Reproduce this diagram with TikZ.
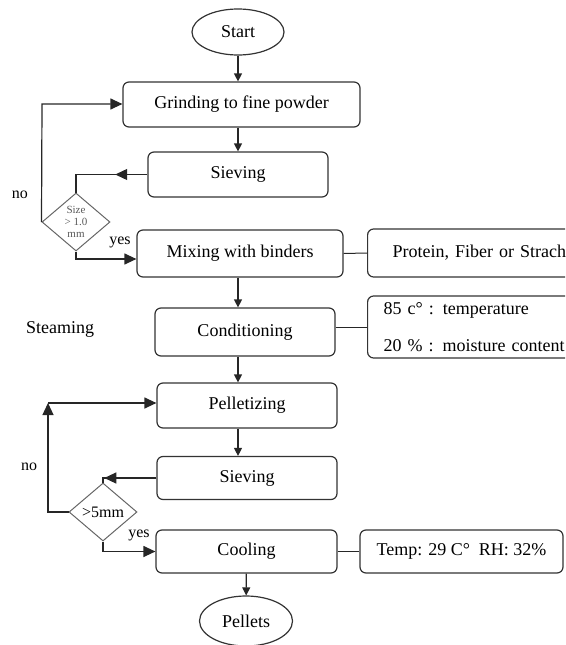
\documentclass[tikz,border=0pt]{standalone}
\usepackage{fontspec}
\setmainfont{Liberation Serif}
\usetikzlibrary{shapes.geometric,arrows.meta,decorations.markings}

\begin{document}
\begin{tikzpicture}
		[x=1pt,y=-1pt,
		line width=1.2pt,
		font=\fontsize{18}{20}\selectfont,
		process/.style={
			rectangle,
			rounded corners=6pt,
			draw=black!80,
			inner sep=0pt
		},
		terminal/.style={ellipse,draw=black!80,minimum width=92pt,minimum height=46pt,inner sep=0pt},
		decision/.style={diamond,draw=black!60,line width=1pt,inner sep=0pt,minimum width=68pt,minimum height=58pt},
		note/.style={rectangle,rounded corners=6pt,draw=black!80,align=left,anchor=west,inner sep=0pt},
		link/.style={draw=black!85,line width=1pt},
		flow/.style={draw=black!85,-{Triangle[length=12pt,width=11pt]}},
		vflow/.style={draw=black!85,-{Triangle[length=8pt,width=8pt]}},
		midflow/.style={draw=black!85,postaction={decorate},
			decoration={markings,mark=at position #1 with {\arrow{Triangle[length=12pt,width=11pt]}}}},
		tag/.style={font=\fontsize{16}{18}\selectfont}]
		\useasboundingbox (0,0) rectangle (565,645);
		\clip (0,0) rectangle (565,645);
		\node[terminal] (start) at (238,32) {Start};
		\node[process,minimum width=237pt,minimum height=45pt] (grind) at (241.5,104.5) {Grinding to fine powder};
		\node[process,minimum width=180pt,minimum height=45pt] (sieve1) at (238,174.5) {Sieving};
		\node[decision,text=black!65,font=\fontsize{11}{12}\selectfont,align=center] (d1) at (76,222) {Size\\> 1.0\\mm};
		\node[process,minimum width=206pt,minimum height=47pt] (mix) at (240,253.5) {Mixing with binders};
		\node[note,minimum height=48pt,text width=230pt,inner xsep=25pt] (binder) at (367,253) {Protein, Fiber or Strach};
		\node (steam) at (60,329) {Steaming};
		\node[process,minimum width=180pt,minimum height=48pt] (cond) at (245,332) {Conditioning};
		\node[note,minimum height=62pt,text width=200pt,inner xsep=16pt] (condnote) at (367,327)
			{85 c° : temperature\\[17pt]20 \% : moisture content};
		\node[process,minimum width=180pt,minimum height=45pt] (pellet) at (247,405.5) {Pelletizing};
		\node[process,minimum width=180pt,minimum height=43pt] (sieve2) at (247,478) {Sieving};
		\node[decision,font=\fontsize{16}{18}\selectfont] (d2) at (103,512) {>5mm};
		\node[process,minimum width=181pt,minimum height=43pt] (cool) at (246.5,551.5) {Cooling};
		\node[process,minimum width=203pt,minimum height=43pt] (climate) at (461.5,551.5) {Temp: 29 C°\enspace RH: 32\%};
		\node[terminal,minimum width=93pt,minimum height=50pt] (pellets) at (246,621) {Pellets};
		\node[tag] (no1) at (20,195) {no};
		\node[tag] (yes1) at (120,242) {yes};
		\node[tag] (no2) at (29,467) {no};
		\node[tag] (yes2) at (139,535) {yes};
		\coordinate (loop1) at (42,104);
		\coordinate (loop2) at (48,403);
		\draw[vflow] (start) -- (start |- grind.north);
		\draw[vflow] (grind.south -| start) -- (sieve1.north);
		\draw[midflow=0.36] (sieve1.west) -| (d1.north);
		\draw[flow] (d1.west) -- (loop1) -- (loop1 -| grind.west);
		\draw[flow] (d1.south) |- ([yshift=-5.5pt]mix.west);
		\draw[link] (mix.east) -- (binder.west);
		\draw[vflow] (mix.south -| start) -- (cond.north -| start);
		\draw[link] (condnote.west -| cond.east) -- (condnote.west);
		\draw[vflow] (cond.south -| start) -- (pellet.north -| start);
		\draw[vflow] (pellet.south -| start) -- (sieve2.north -| start);
		\draw[midflow=0.9] (sieve2.west) -| (d2.north);
		\draw[flow] (d2.west) -| (loop2);
		\draw[flow] (loop2) -- (loop2 -| pellet.west);
		\draw[flow] (d2.south) |- (cool.west);
		\draw[link] (cool.east) -- (climate.west);
		\draw[vflow] (cool) -- (pellets);
\end{tikzpicture}
\end{document}
